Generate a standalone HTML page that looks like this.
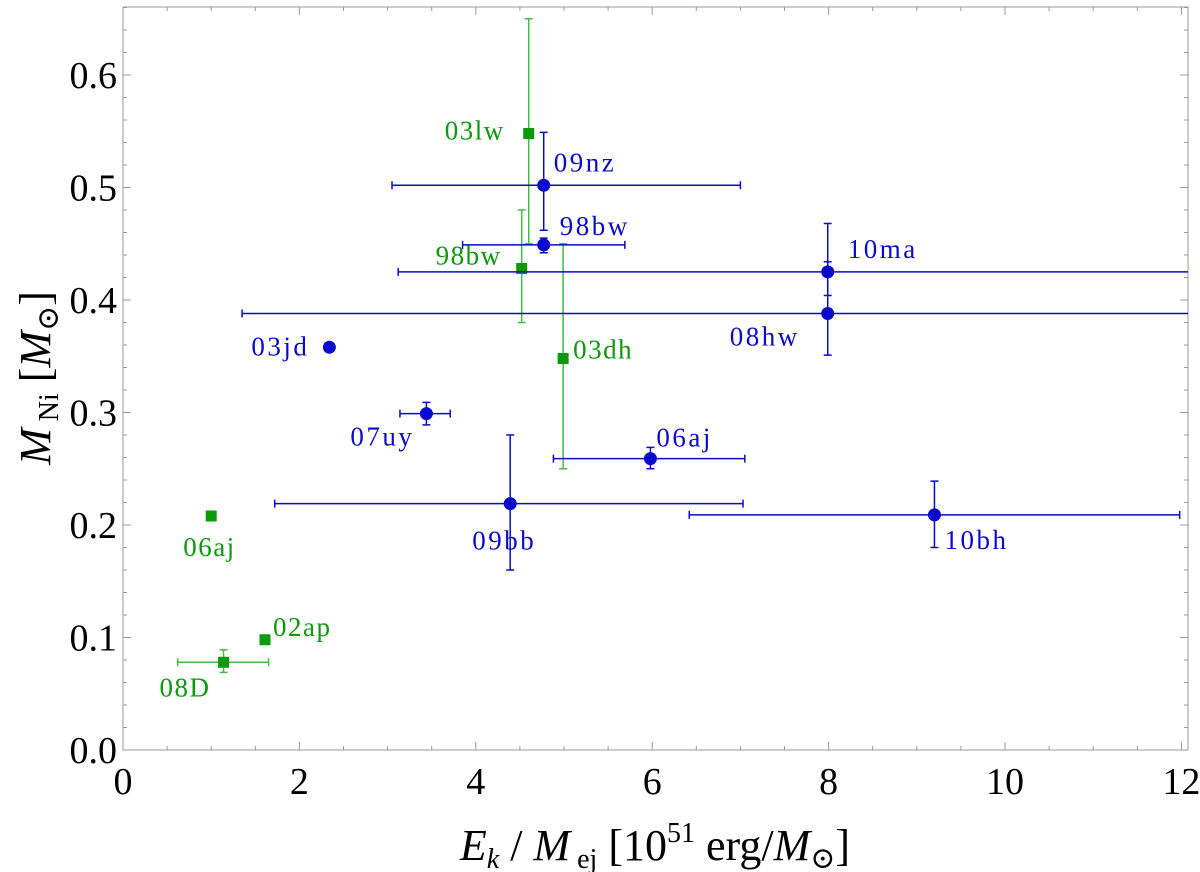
<!DOCTYPE html>
<html><head><meta charset="utf-8"><style>
html,body{margin:0;padding:0;background:#fff;width:1200px;height:872px;overflow:hidden}
text{font-family:"Liberation Serif","DejaVu Serif",serif}
</style></head><body>
<svg id="chart" width="1200" height="872" xmlns="http://www.w3.org/2000/svg"></svg>
<script>
const blueNames=["09nz","98bw","10ma","08hw","03jd","07uy","06aj","09bb","10bh"];
const blueX=[4.77,4.77,7.99,7.99,2.34,3.44,5.98,4.39,9.2];
const blueY=[0.502,0.449,0.425,0.388,0.358,0.299,0.259,0.219,0.209];
const blueXLo=[3.05,3.85,3.12,1.35,null,3.14,4.88,1.72,6.42];
const blueXHi=[7.0,5.69,12.5,12.5,null,3.71,7.05,7.03,11.98];
const blueYLo=[0.462,0.442,0.404,0.351,null,0.289,0.250,0.16,0.18];
const blueYHi=[0.549,0.455,0.468,0.434,null,0.309,0.269,0.28,0.239];
const blueLabDx=[10,16,20,-98,-78,-76,6,-38,10];
const blueLabDy=[-14,-10,-14,32,8,32,-12,46,34];
const greenNames=["03lw","98bw","03dh","06aj","02ap","08D"];
const greenX=[4.6,4.52,4.99,1.0,1.61,1.14];
const greenY=[0.548,0.428,0.348,0.208,0.098,0.078];
const greenXLo=[null,null,null,null,null,0.62];
const greenXHi=[null,null,null,null,null,1.65];
const greenYLo=[0.45,0.38,0.25,null,null,0.069];
const greenYHi=[0.65,0.48,0.45,null,null,0.089];
const greenLabDx=[-84,-86,10,-28,8,-64];
const greenLabDy=[6,-4,0,40,-4,34];
const xTicks=[0,2,4,6,8,10,12];
const yTicks=[0.0,0.1,0.2,0.3,0.4,0.5,0.6];

const L=123,R=1188,T=7,B=750,XMAX=(R-L)/88.2,YMAX=(B-T)/1125;
const sx=v=>L+(v/XMAX)*(R-L);
const sy=v=>B-(v/YMAX)*(B-T);
const svg=document.getElementById('chart');
const NS="http://www.w3.org/2000/svg";
const FF="Liberation Serif, DejaVu Serif, serif";
function mk(t,a,p){const e=document.createElementNS(NS,t);for(const k in a)e.setAttribute(k,a[k]);(p||svg).appendChild(e);return e;}
const clip=mk('clipPath',{id:'pc'});mk('rect',{x:L,y:T,width:R-L,height:B-T},clip);
const frame=mk('rect',{x:L,y:T,width:R-L,height:B-T,fill:'none',stroke:'#999','stroke-width':1});


for(let v=0;v<=XMAX+1e-9;v+=0.5){const maj=Math.abs(v%2)<1e-6;const x=sx(v);
 mk('line',{x1:x,y1:B,x2:x,y2:B-(maj?8:4),stroke:'#999'});mk('line',{x1:x,y1:T,x2:x,y2:T+(maj?8:4),stroke:'#999'});}
for(let i=0;i<=33;i++){const v=i*0.02;if(v>YMAX)break;const maj=i%5==0;const y=sy(v);
 mk('line',{x1:L,y1:y,x2:L+(maj?8:4),y2:y,stroke:'#999'});mk('line',{x1:R,y1:y,x2:R-(maj?8:4),y2:y,stroke:'#999'});}
xTicks.forEach(v=>{const t=mk('text',{x:sx(v),y:B+44,'text-anchor':'middle','font-size':38,'font-family':FF,fill:'#000'});t.textContent=v;
 
 });
yTicks.forEach(v=>{const t=mk('text',{x:L-6,y:sy(v)+13,'text-anchor':'end','font-size':38,'font-family':FF,fill:'#000'});t.textContent=v.toFixed(1);
 
 });
const g=mk('g',{'clip-path':'url(#pc)'});
function err(x,y,xl,xh,yl,yh,col,pg){
 if(xl!=null){mk('line',{x1:sx(xl),y1:sy(y),x2:sx(xh),y2:sy(y),stroke:col,'stroke-width':1.5},pg);
  [xl,xh].forEach(v=>mk('line',{x1:sx(v),y1:sy(y)-4,x2:sx(v),y2:sy(y)+4,stroke:col,'stroke-width':1.5},pg));}
 if(yl!=null){mk('line',{x1:sx(x),y1:sy(yl),x2:sx(x),y2:sy(yh),stroke:col,'stroke-width':1.5},pg);
  [yl,yh].forEach(v=>mk('line',{x1:sx(x)-4,y1:sy(v),x2:sx(x)+4,y2:sy(v),stroke:col,'stroke-width':1.5},pg));}
}
const BL='#0a0acc',GR='#0c990c',GRL='#44bb44';
greenNames.forEach((n,i)=>{const pg=mk('g',{},g);
 
 
 err(greenX[i],greenY[i],greenXLo[i],greenXHi[i],greenYLo[i],greenYHi[i],GRL,pg);
 mk('rect',{x:sx(greenX[i])-5.5,y:sy(greenY[i])-5.5,width:11,height:11,fill:GR},pg);
 const t=mk('text',{x:sx(greenX[i])+greenLabDx[i],y:sy(greenY[i])+greenLabDy[i],'font-size':27,'font-family':FF,fill:GR,'letter-spacing':1.5});t.textContent=n;
 
 });
blueNames.forEach((n,i)=>{const pg=mk('g',{},g);
 
 
 err(blueX[i],blueY[i],blueXLo[i],blueXHi[i],blueYLo[i],blueYHi[i],BL,pg);
 mk('circle',{cx:sx(blueX[i]),cy:sy(blueY[i]),r:6.5,fill:BL},pg);
 const t=mk('text',{x:sx(blueX[i])+blueLabDx[i],y:sy(blueY[i])+blueLabDy[i],'font-size':27,'font-family':FF,fill:BL,'letter-spacing':2.5});t.textContent=n;
 
 });
</script>
<svg style="position:absolute;left:0;top:0" width="1200" height="872">
<text x="655" y="860" text-anchor="middle" font-size="44" font-family="Liberation Serif, DejaVu Serif, serif"><tspan font-style="italic">E</tspan><tspan font-style="italic" font-size="28" dy="8">k</tspan><tspan dy="-8"> / </tspan><tspan font-style="italic">M</tspan><tspan font-size="28" dy="8"> ej</tspan><tspan dy="-8"> [10</tspan><tspan font-size="28" dy="-18">51</tspan><tspan dy="18"> erg/</tspan><tspan font-style="italic">M</tspan><tspan font-size="30" dy="8">⊙</tspan><tspan dy="-8">]</tspan></text>
<text transform="translate(50,378) rotate(-90)" text-anchor="middle" font-size="44" font-family="Liberation Serif, DejaVu Serif, serif"><tspan font-style="italic">M</tspan><tspan font-size="28" dy="8"> Ni</tspan><tspan dy="-8"> [</tspan><tspan font-style="italic">M</tspan><tspan font-size="30" dy="8">⊙</tspan><tspan dy="-8">]</tspan></text>
</svg>
</body></html>
